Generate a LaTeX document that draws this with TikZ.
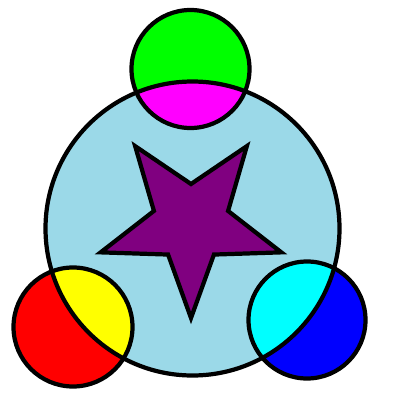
\documentclass[tikz,border=0pt]{standalone}
\definecolor{discblue}{RGB}{155,217,232}
\definecolor{starpurple}{RGB}{128,0,128}
\definecolor{capgreen}{RGB}{0,255,0}
\definecolor{capred}{RGB}{255,0,0}
\definecolor{capblue}{RGB}{0,0,255}
\definecolor{lensmagenta}{RGB}{255,0,255}
\definecolor{lensyellow}{RGB}{255,255,0}
\definecolor{lenscyan}{RGB}{0,255,255}
\tikzset{
  rim/.style={draw=black, line width=4pt*0.75},
  starline/.style={draw=black, line width=4pt*0.75, line join=miter, fill=starpurple}
}
\begin{document}
\begin{tikzpicture}[x=0.025cm, y=-0.025cm]
  \useasboundingbox (0,0) rectangle (400,400);
  % big disc and the three small discs
  \fill[discblue] (192.5,228.5) circle (147);
  \fill[capgreen] (190.5,69) circle (59);
  \fill[capred] (73,327) circle (59.5);
  \fill[capblue] (307,320) circle (58.5);
  % overlaps
  \begin{scope}
    \clip (192.5,228.5) circle (147);
    \fill[lensmagenta] (190.5,69) circle (59);
    \fill[lensyellow] (73,327) circle (59.5);
    \fill[lenscyan] (307,320) circle (58.5);
  \end{scope}
  % outlines
  \draw[rim] (192.5,228.5) circle (147);
  \draw[rim] (190.5,69) circle (59);
  \draw[rim] (73,327) circle (59.5);
  \draw[rim] (307,320) circle (58.5);
  % star
  \begin{scope}[shift={(191,223)}]
    \draw[starline] (90:95) \foreach \k in {1,...,9} { -- ({90+36*\k}:{ifthenelse(isodd(\k),39,95)}) } -- cycle;
  \end{scope}
\end{tikzpicture}
\end{document}
